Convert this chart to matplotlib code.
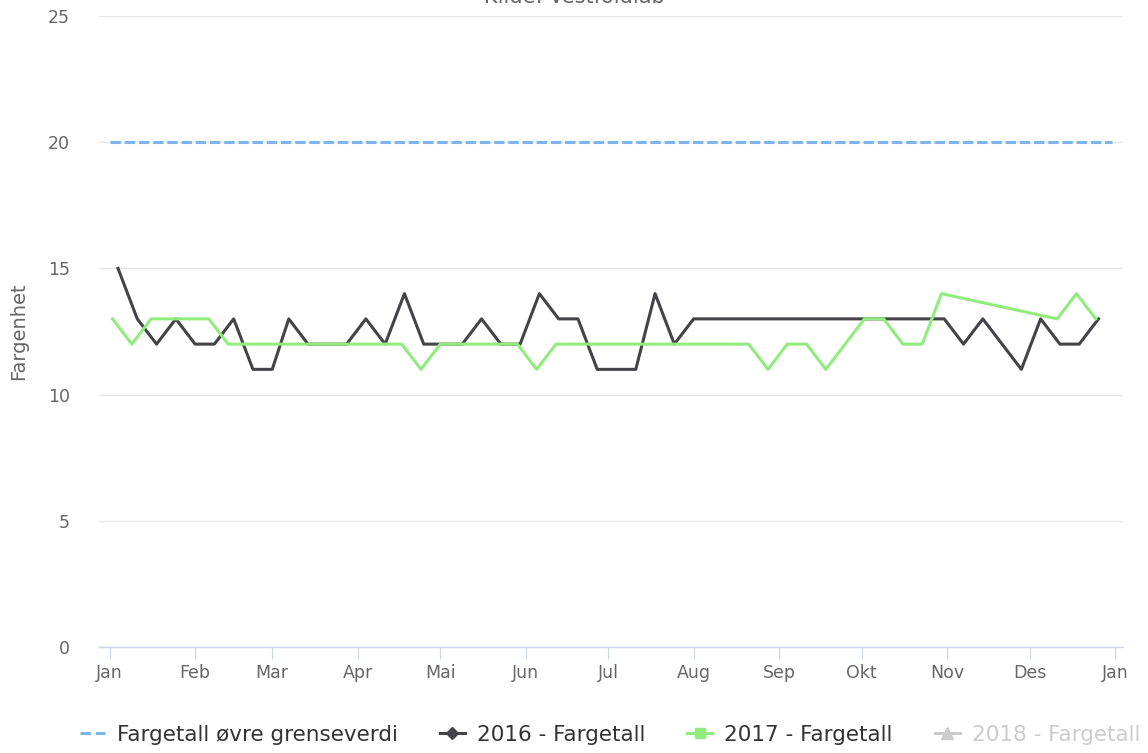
import matplotlib
matplotlib.use('Agg')
import matplotlib.pyplot as plt
import matplotlib.dates as mdates
from matplotlib.lines import Line2D
from datetime import datetime, timedelta

# ---------------- data ----------------
title = "Kilde: Vestfoldlab"
y_label = "Fargenhet"
month_labels = ["Jan", "Feb", "Mar", "Apr", "Mai", "Jun", "Jul", "Aug",
                "Sep", "Okt", "Nov", "Des", "Jan"]
legend_labels = ["Fargetall øvre grenseverdi", "2016 - Fargetall",
                 "2017 - Fargetall", "2018 - Fargetall"]
limit_value = 20
limit_dates = ["2017-01-01", "2017-12-31"]

# 2016 weekly samples (Mondays from 2016-01-04), plotted on a common year
start_2016 = "2016-01-04"
values_2016 = [15, 13, 12, 13,
               12, 12, 13, 11, 11,
               13, 12, 12, 12,
               13, 12, 14, 12,
               12, 12, 13, 12, 12,
               14, 13, 13, 11,
               11, 11, 14, 12,
               13, 13, 13, 13, 13,
               13, 13, 13, 13,
               13, 13, 13, 13, 13,
               12, 13, 12, 11,
               13, 12, 12, 13]

# 2017 weekly samples (Mondays from 2017-01-02); None = no sample
start_2017 = "2017-01-02"
values_2017 = [13, 12, 13, 13, 13,
               13, 12, 12, 12,
               12, 12, 12, 12,
               12, 12, 12, 11,
               12, 12, 12, 12, 12,
               11, 12, 12, 12,
               12, 12, 12, 12, 12,
               12, 12, 12, 11,
               12, 12, 11, 12,
               13, 13, 12, 12, 14,
               None, None, None, None,
               None, 13, 14, 13]

# ---------------- helpers ----------------
def to_common_year(d):
    # month/day mapped onto 2017 (like JS Date.UTC: Feb 29 -> Mar 1)
    try:
        return datetime(2017, d.month, d.day)
    except ValueError:
        return datetime(2017, 3, 1)

def weekly(start, values):
    s = datetime.strptime(start, "%Y-%m-%d")
    xs, ys = [], []
    for i, v in enumerate(values):
        if v is None:
            continue
        xs.append(to_common_year(s + timedelta(days=7 * i)))
        ys.append(v)
    return xs, ys

x16, y16 = weekly(start_2016, values_2016)
x17, y17 = weekly(start_2017, values_2017)
x_lim_line = [datetime.strptime(d, "%Y-%m-%d") for d in limit_dates]

# ---------------- figure ----------------
W, H = 1148, 753
fig = plt.figure(figsize=(W / 100, H / 100), dpi=100)
FONT = "DejaVu Sans"
plt.rcParams['font.family'] = [FONT]

left, right, top, bottom = 99, 1123, 16, 647
ax = fig.add_axes([left / W, 1 - bottom / H, (right - left) / W, (bottom - top) / H])

c_limit = "#7cb5ec"
c_2016 = "#434348"
c_2017 = "#90ed7d"
c_2018 = "#cccccc"

ax.plot(x_lim_line, [limit_value] * len(x_lim_line), color=c_limit, lw=2.2,
        dashes=(3.4, 1.25), zorder=3)
ax.plot(x16, y16, color=c_2016, lw=2.2, zorder=4)
ax.plot(x17, y17, color=c_2017, lw=2.2, zorder=5)

base = mdates.date2num(datetime(2017, 1, 1))
ax.set_xlim(base - 3.9, base + 367.9)
ax.set_ylim(0, 25)

ticks = [datetime(2017, m, 1) for m in range(1, 13)] + [datetime(2018, 1, 1)]
ax.set_xticks(ticks)
ax.set_xticklabels(month_labels)
ax.set_yticks([0, 5, 10, 15, 20, 25])

for s in ['top', 'right', 'left']:
    ax.spines[s].set_visible(False)
ax.spines['bottom'].set_color('#ccd6eb')
ax.spines['bottom'].set_linewidth(1.0)
ax.grid(axis='y', color='#e6e6e6', lw=1.0)
ax.set_axisbelow(True)

ax.tick_params(axis='x', direction='out', length=8.5, width=0.8, color='#ccd6eb',
               labelsize=12.5, labelcolor='#666666', pad=4)
ax.tick_params(axis='y', length=0, labelsize=12.5, labelcolor='#666666', pad=21)

ax.set_ylabel(y_label, fontsize=14, color='#666666', labelpad=14)

fig.text(0.5, 1 - 3 / H, title, ha='center', va='baseline', fontsize=15, color='#666666')

handles = [
    Line2D([], [], color=c_limit, lw=2.2, dashes=(3.4, 1.6)),
    Line2D([], [], color=c_2016, lw=2.2, marker='D', markersize=6),
    Line2D([], [], color=c_2017, lw=2.2, marker='s', markersize=7),
    Line2D([], [], color=c_2018, lw=2.2, marker='^', markersize=8),
]
leg = fig.legend(handles, legend_labels, loc='center', bbox_to_anchor=(610 / W, 1 - 735 / H),
                 ncol=4, frameon=False, handlelength=1.16,
                 handletextpad=0.56, columnspacing=1.95,
                 prop={'family': FONT, 'size': 15.5})
for t, col in zip(leg.get_texts(), ['#333333', '#333333', '#333333', '#cccccc']):
    t.set_color(col)

fig.savefig("out.png", dpi=100)
